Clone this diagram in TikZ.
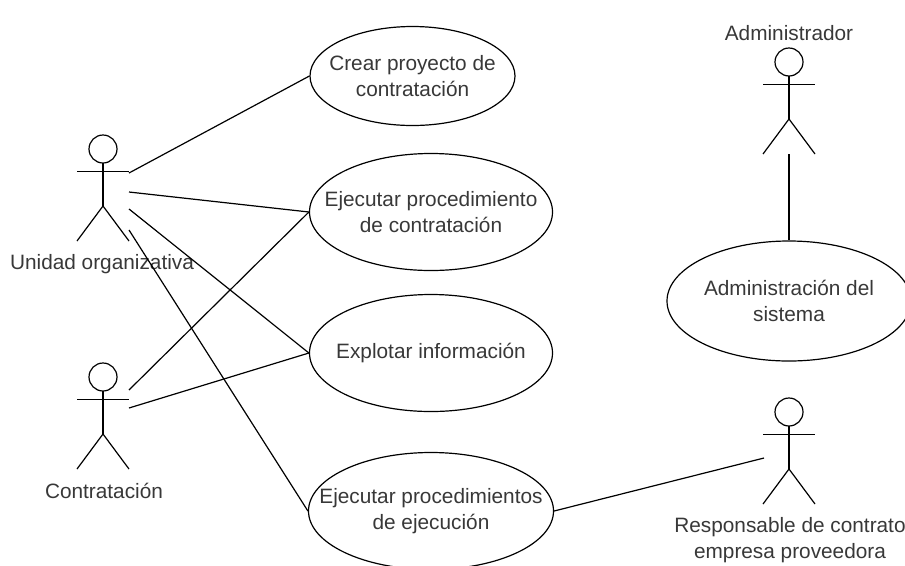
\documentclass[tikz,border=0pt]{standalone}
\usepackage{fontspec}
\setmainfont{Liberation Sans}
\usetikzlibrary{shapes.geometric}
\tikzset{
 lbl/.style={inner sep=0pt,align=center,font=\fontsize{15.6}{19.5}\selectfont,text=black!78},
 uc/.style={draw=black,fill=white,ellipse,line width=0.9pt,minimum width=#1*0.75pt,inner sep=0pt},
 conn/.style={draw=black,line width=0.9pt},
 stick/.style={draw=black,line width=0.9pt}
}
\newcommand{\actor}[2]{%
 \begin{scope}[shift={(#1,#2)}]
  \draw[stick,fill=white] (0,14) circle (14*0.75pt);
  \draw[stick] (0,28) -- (0,71);
  \draw[stick] (-26,36.5) -- (26,36.5);
  \draw[stick] (0,71) -- (-26,106);
  \draw[stick] (0,71) -- (26,106);
 \end{scope}}
\begin{document}
\begin{tikzpicture}[x=0.75pt,y=-0.75pt]
\useasboundingbox (0,0) rectangle (905,565);
\coordinate (ua) at (129,173);
\coordinate (ub) at (129,192);
\coordinate (uc) at (129,209);
\coordinate (ud) at (129,230);
\coordinate (ca) at (129,390);
\coordinate (cb) at (129,408);
\coordinate (ad) at (789,154);
\coordinate (re) at (764,458);
\node[uc=205,minimum height=99*0.75pt,label={[lbl]center:{Crear proyecto de\\contratación}}] (c1) at (412.5,76) {};
\node[uc=243,minimum height=117*0.75pt,label={[lbl]center:{Ejecutar procedimiento\\de contratación}}] (c2) at (431,212) {};
\node[uc=243,minimum height=117*0.75pt,label={[lbl]center:{Explotar información}}] (c3) at (431,353) {};
\node[uc=245,minimum height=117*0.75pt,label={[lbl]center:{Ejecutar procedimientos\\de ejecución}}] (c4) at (431,511) {};
\node[uc=244,minimum height=120*0.75pt,label={[lbl]center:{Administración del\\sistema}}] (c5) at (789,301) {};
\actor{103}{135}
\actor{103}{363}
\actor{789}{48}
\actor{789}{398}
\node[lbl] (l1) at (102,264) {Unidad organizativa};
\node[lbl] (l2) at (104,491) {Contratación};
\node[lbl] (l3) at (789,33) {Administrador};
\node[lbl] (l4) at (790,540) {Responsable de contrato\\empresa proveedora};
\draw[conn] (ua) -- (c1.west);
\draw[conn] (ub) -- (c2.west);
\draw[conn] (uc) -- (c3.west);
\draw[conn] (ud) -- (c4.west);
\draw[conn] (ca) -- (c2.west);
\draw[conn] (cb) -- (c3.west);
\draw[conn] (ad) -- (c5.north);
\draw[conn] (c4.east) -- (re);
\end{tikzpicture}
\end{document}
